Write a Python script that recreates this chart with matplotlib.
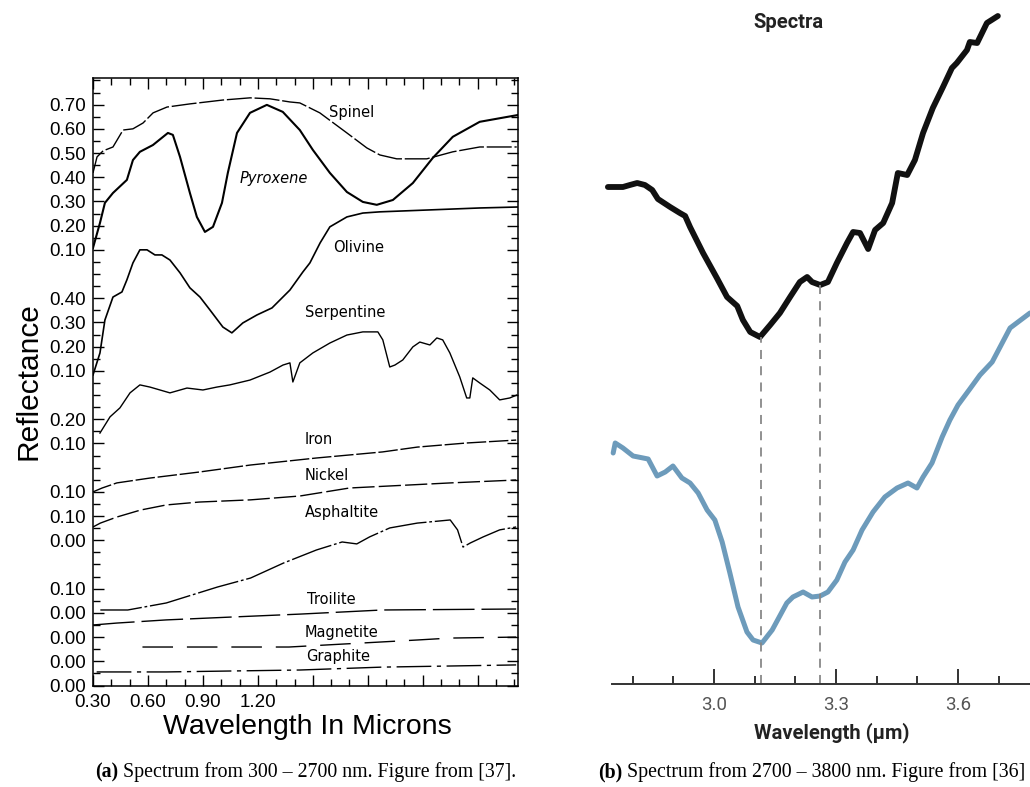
import numpy as np
import matplotlib
matplotlib.use('Agg')
from matplotlib import pyplot as plt
from matplotlib.ticker import FixedLocator, NullFormatter

# ---- panel (a): stacked reflectance spectra (x in microns, y in offset units) ----
spinel_x = [0.300, 0.322, 0.355, 0.409, 0.464, 0.518, 0.573, 0.628, 0.704, 0.829, 1.009, 1.157, 1.266, 1.375,
            1.429, 1.538, 1.686, 1.795, 1.866, 1.958, 2.122, 2.264, 2.411, 2.613]
spinel_y = [21.18, 21.84, 22.09, 22.25, 22.95, 23.00, 23.24, 23.66, 23.90, 24.03, 24.19, 24.28, 24.24, 24.11,
            24.07, 23.66, 22.83, 22.21, 21.92, 21.76, 21.76, 22.05, 22.25, 22.25]

pyroxene_x = [0.300, 0.338, 0.365, 0.409, 0.485, 0.518, 0.556, 0.627, 0.709, 0.736, 0.775, 0.829, 0.867, 0.911,
              0.955, 1.004, 1.036, 1.086, 1.157, 1.249, 1.336, 1.429, 1.500, 1.593, 1.686, 1.773, 1.849, 1.937,
              2.046, 2.155, 2.264, 2.411, 2.559, 2.619]
pyroxene_y = [18.08, 19.11, 19.94, 20.35, 20.89, 21.71, 22.05, 22.33, 22.83, 22.75, 21.84, 20.35, 19.36, 18.74,
              18.95, 19.94, 21.18, 22.83, 23.66, 23.99, 23.70, 22.95, 22.13, 21.18, 20.39, 19.98, 19.86, 20.06,
              20.76, 21.80, 22.67, 23.29, 23.49, 23.57]

olivine_x = [0.300, 0.338, 0.365, 0.409, 0.458, 0.485, 0.518, 0.556, 0.595, 0.638, 0.676, 0.720, 0.775, 0.829,
             0.884, 0.938, 1.009, 1.058, 1.118, 1.195, 1.277, 1.375, 1.446, 1.484, 1.540, 1.593, 1.686, 1.773,
             1.866, 2.139, 2.411, 2.619]
olivine_y = [12.83, 13.74, 15.10, 16.05, 16.26, 16.76, 17.46, 18.00, 18.00, 17.79, 17.79, 17.58, 17.05, 16.43,
             16.05, 15.52, 14.81, 14.57, 14.98, 15.31, 15.60, 16.34, 17.09, 17.46, 18.29, 18.95, 19.36, 19.52,
             19.57, 19.65, 19.73, 19.77]

serpentine_x = [0.338, 0.393, 0.447, 0.502, 0.556, 0.611, 0.720, 0.813, 0.900, 0.976, 1.047, 1.157, 1.266, 1.337,
                1.375, 1.391, 1.429, 1.500, 1.593, 1.686, 1.773, 1.855, 1.882, 1.920, 1.948, 1.991, 2.046, 2.084,
                2.139, 2.177, 2.209, 2.248, 2.302, 2.340, 2.357, 2.373, 2.411, 2.466, 2.520, 2.575, 2.613]
serpentine_y = [10.43, 11.10, 11.47, 12.09, 12.42, 12.33, 12.09, 12.29, 12.21, 12.33, 12.42, 12.62, 12.95, 13.24,
                13.33, 12.54, 13.33, 13.74, 14.15, 14.48, 14.61, 14.61, 14.28, 13.16, 13.24, 13.45, 13.99, 14.19,
                14.07, 14.36, 14.28, 13.74, 12.75, 11.88, 11.88, 12.71, 12.50, 12.21, 11.80, 11.88, 12.00]

iron_x = [0.30, 0.35, 0.43, 0.61, 0.88, 1.16, 1.52, 1.88, 2.07, 2.34, 2.61]
iron_y = [8.00, 8.16, 8.37, 8.57, 8.82, 9.11, 9.40, 9.65, 9.85, 10.02, 10.14]

nickel_x = [0.30, 0.34, 0.43, 0.56, 0.70, 0.88, 1.16, 1.43, 1.70, 2.25, 2.61]
nickel_y = [6.55, 6.71, 6.96, 7.25, 7.46, 7.58, 7.67, 7.83, 8.16, 8.37, 8.49]

asphaltite_x = [0.34, 0.49, 0.70, 0.98, 1.16, 1.34, 1.52, 1.66, 1.74, 1.81, 1.92, 2.07, 2.25, 2.29, 2.32, 2.36, 2.43, 2.52, 2.61]
asphaltite_y = [3.12, 3.12, 3.41, 4.07, 4.44, 5.06, 5.60, 5.93, 5.85, 6.14, 6.51, 6.71, 6.84, 6.43, 5.72, 5.89, 6.14, 6.43, 6.55]

troilite_x = [0.30, 0.43, 0.70, 1.06, 1.43, 1.88, 2.61]
troilite_y = [2.50, 2.58, 2.71, 2.83, 2.95, 3.12, 3.16]

magnetite_x = [0.57, 1.37, 2.07, 2.25, 2.61]
magnetite_y = [1.59, 1.59, 1.88, 1.96, 2.00]

graphite_x = [0.32, 0.70, 1.06, 1.43, 1.88, 2.61]
graphite_y = [0.56, 0.56, 0.60, 0.64, 0.76, 0.85]

ytick_pos = [0, 1, 2, 3, 4, 6, 7, 8, 10, 11, 13, 14, 15, 16, 18, 19, 20, 21, 22, 23, 24]
ytick_lab = ['0.00', '0.00', '0.00', '0.00', '0.10', '0.00', '0.10', '0.10', '0.10', '0.20', '0.10',
             '0.20', '0.30', '0.40', '0.10', '0.20', '0.30', '0.40', '0.50', '0.60', '0.70']
xtick_lab = ['0.30', '0.60', '0.90', '1.20', '', '', '', '']

# ---- panel (b): two spectra, 2.7 - 3.8 micron ----
black_x = [2.739, 2.776, 2.793, 2.811, 2.830, 2.848, 2.862, 2.892, 2.916, 2.929, 2.941, 2.973, 3.007, 3.032,
           3.057, 3.071, 3.089, 3.113, 3.138, 3.162, 3.187, 3.211, 3.229, 3.241, 3.261, 3.280, 3.302, 3.327,
           3.342, 3.359, 3.379, 3.396, 3.416, 3.438, 3.452, 3.475, 3.494, 3.514, 3.538, 3.563, 3.585, 3.597,
           3.622, 3.629, 3.647, 3.671, 3.698]
black_y = [4.97, 4.97, 4.99, 5.01, 4.99, 4.94, 4.85, 4.77, 4.71, 4.68, 4.57, 4.31, 4.06, 3.87,
           3.78, 3.64, 3.52, 3.47, 3.59, 3.71, 3.87, 4.02, 4.07, 4.02, 3.99, 4.02, 4.21, 4.41,
           4.52, 4.51, 4.35, 4.54, 4.61, 4.81, 5.11, 5.09, 5.24, 5.51, 5.76, 5.97, 6.16, 6.21,
           6.34, 6.42, 6.41, 6.61, 6.68]

blue_x = [2.752, 2.757, 2.776, 2.801, 2.838, 2.860, 2.880, 2.899, 2.921, 2.941, 2.961, 2.983, 3.002, 3.020,
          3.039, 3.059, 3.081, 3.096, 3.118, 3.143, 3.179, 3.194, 3.219, 3.241, 3.261, 3.280, 3.302, 3.322,
          3.342, 3.364, 3.391, 3.420, 3.450, 3.477, 3.499, 3.514, 3.536, 3.561, 3.580, 3.600, 3.629, 3.654,
          3.684, 3.728, 3.777]
blue_y = [2.31, 2.41, 2.36, 2.28, 2.25, 2.08, 2.12, 2.18, 2.06, 2.01, 1.91, 1.74, 1.64, 1.42,
          1.11, 0.77, 0.52, 0.44, 0.41, 0.54, 0.81, 0.87, 0.92, 0.87, 0.88, 0.92, 1.04, 1.22,
          1.34, 1.54, 1.72, 1.87, 1.96, 2.01, 1.96, 2.07, 2.21, 2.47, 2.64, 2.79, 2.95, 3.09,
          3.22, 3.56, 3.71]

band_x = [3.116, 3.261]
band_top = [3.47, 3.99]

W, H = 1030, 787


def fx(px):
    return px / W


def fy(py):
    return 1 - py / H


fig = plt.figure(figsize=(W / 100, H / 100), dpi=100)

# ------------------------------------------------------------ panel (a)
axL = fig.add_axes([fx(93), fy(685.5), 425 / W, 607.5 / H])
axL.set_xlim(0.3, 2.62)
axL.set_ylim(0, 25.1)

k = dict(color='black', lw=1.0)
axL.plot(spinel_x, spinel_y, dashes=(18, 2), **k)
axL.plot(pyroxene_x, pyroxene_y, color='black', lw=1.5)
axL.plot(olivine_x, olivine_y, color='black', lw=1.2)
axL.plot(serpentine_x, serpentine_y, **k)
axL.plot(iron_x, iron_y, dashes=(14, 2), **k)
axL.plot(nickel_x, nickel_y, dashes=(16, 3), **k)
axL.plot(asphaltite_x, asphaltite_y, dashes=(30, 2, 2, 2), **k)
axL.plot(troilite_x, troilite_y, dashes=(30, 5), **k)
axL.plot(magnetite_x, magnetite_y, dashes=(22, 10), **k)
axL.plot(graphite_x, graphite_y, dashes=(25, 4, 3, 4), **k)

axL.yaxis.set_major_locator(FixedLocator(ytick_pos))
axL.set_yticklabels(ytick_lab)
axL.yaxis.set_minor_locator(FixedLocator(np.arange(0, 25.1, 0.5)))
axL.xaxis.set_major_locator(FixedLocator(np.arange(0.3, 2.5, 0.3)))
axL.set_xticklabels(xtick_lab)
axL.xaxis.set_minor_locator(FixedLocator(np.arange(0.3, 2.62, 0.1)))
axL.yaxis.set_minor_formatter(NullFormatter())
axL.tick_params(which='both', direction='in', top=True, right=True, width=1.0,
                labelsize=13.5, labelfontfamily='Liberation Sans')
axL.tick_params(which='major', length=8)
axL.tick_params(which='minor', length=5)
axL.tick_params(axis='y', pad=5)
axL.tick_params(axis='x', pad=6)
for s in axL.spines.values():
    s.set_linewidth(1.1)

fig.text(fx(29), fy(381), 'Reflectance', rotation=90, ha='center', va='center',
         family='Liberation Sans', size=21.5)
fig.text(fx(307), fy(727), 'Wavelength In Microns', ha='center', va='center',
         family='Liberation Sans', size=20.5)

labels = [('Spinel', 329, 113, 'normal'), ('Pyroxene', 240, 178, 'italic'),
          ('Olivine', 333, 248, 'normal'), ('Serpentine', 305, 312, 'normal'),
          ('Iron', 305, 440, 'normal'), ('Nickel', 305, 476, 'normal'),
          ('Asphaltite', 305, 512, 'normal'), ('Troilite', 307, 600, 'normal'),
          ('Magnetite', 305, 632, 'normal'), ('Graphite', 306, 656, 'normal')]
for name, x, y, st in labels:
    fig.text(fx(x), fy(y), name, ha='left', va='center', style=st,
             family='DejaVu Sans', size=10.5)

# ------------------------------------------------------------ panel (b)
axR = fig.add_axes([fx(590), fy(684), 440 / W, 684 / H])
axR.set_xlim(2.695, 3.777)
axR.set_ylim(0, 6.84)
axR.plot(black_x, black_y, color='#111111', lw=4.2, solid_joinstyle='round', solid_capstyle='round')
axR.plot(blue_x, blue_y, color='#6d9bbb', lw=3.6, solid_joinstyle='round', solid_capstyle='round')
axR.vlines(band_x, 0, band_top, colors='#888888', linestyles=(0, (5, 4)), lw=1.3)

for side in ['left', 'right', 'top']:
    axR.spines[side].set_visible(False)
axR.spines['bottom'].set_bounds(2.749, 3.777)
axR.spines['bottom'].set_color('#333333')
axR.spines['bottom'].set_linewidth(1.4)
axR.set_yticks([])
axR.set_xticks([3.0, 3.3, 3.6])
axR.set_xticklabels(['3.0', '3.3', '3.6'])
axR.xaxis.set_minor_locator(FixedLocator([2.8, 2.9, 3.1, 3.2, 3.4, 3.5, 3.7]))
axR.tick_params(which='both', direction='in', color='#333333', width=1.4,
                labelsize=13.5, labelcolor='#555555', pad=9, labelfontfamily='Roboto')
axR.tick_params(which='major', length=11)
axR.tick_params(which='minor', length=6)

fig.text(fx(788), fy(23), 'Spectra', ha='center', va='center', family='Roboto',
         weight='bold', size=14.5, color='#222222')
fig.text(fx(832), fy(733), 'Wavelength (µm)', ha='center', va='center', family='Roboto',
         weight='bold', size=14.5, color='#222222')

# ------------------------------------------------------------ captions
ta = fig.text(fx(95), fy(777), '(a)', weight='bold', family='Liberation Serif', size=14.3)
axL.annotate(' Spectrum from 300 – 2700 nm. Figure from [37].', xy=(1, 0), xycoords=ta,
             va='bottom', family='Liberation Serif', size=14.3)
tb = fig.text(fx(598), fy(777), '(b)', weight='bold', family='Liberation Serif', size=14.3)
axR.annotate(' Spectrum from 2700 – 3800 nm. Figure from [36]', xy=(1, 0), xycoords=tb,
             va='bottom', family='Liberation Serif', size=14.3)

fig.savefig('out.png', dpi=100)
